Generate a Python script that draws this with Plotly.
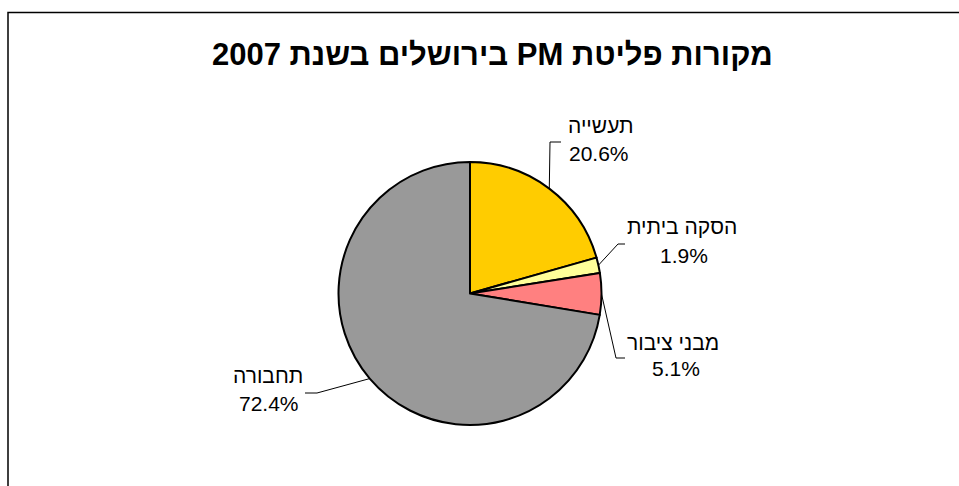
import math
import plotly.graph_objects as go

# PM emission sources in Jerusalem, 2007 (percent share)
labels = ["תעשייה", "הסקה ביתית", "מבני ציבור", "תחבורה"]
values = [20.6, 1.9, 5.1, 72.4]
colors = ["#FFCC00", "#FFFF99", "#FF8080", "#999999"]
title_text = "מקורות פליטת PM בירושלים בשנת 2007"

W, H = 959, 486
FONT = "Liberation Sans, Arial, sans-serif"

# pie placement in pixels
cx, cy, r = 470, 293.5, 131.5

# label layout in pixels: name centre, percent centre, leader elbow, leader end
name_pos = [(600, 125), (682, 227), (673, 342), (268, 375)]
pct_pos = [(599, 153), (684, 255), (676, 368), (269, 403)]
elbows = [(550, 142), (618, 244), (616, 358), (317, 393)]
ends = [(561, 142), (625, 244), (625, 358), (305, 393)]


def px(x):
    return x / W


def py(y):
    return 1 - y / H


fig = go.Figure(
    go.Pie(
        labels=labels,
        values=values,
        sort=False,
        direction="clockwise",
        rotation=0,
        marker=dict(colors=colors, line=dict(color="black", width=2)),
        textinfo="none",
        hoverinfo="label+percent",
        showlegend=False,
        domain=dict(x=[px(cx - r), px(cx + r)], y=[py(cy + r), py(cy - r)]),
    )
)

annotations = [
    dict(
        text="\u202B" + title_text + "\u202C",
        x=px(492), y=py(54), xref="paper", yref="paper",
        xanchor="center", yanchor="middle", showarrow=False,
        font=dict(family=FONT, size=31, color="black", weight="bold"),
    )
]
shapes = [
    dict(
        type="rect", xref="paper", yref="paper",
        x0=px(8), y0=-0.05, x1=1.05, y1=py(12.5),
        line=dict(color="black", width=1.5), fillcolor="rgba(0,0,0,0)",
    )
]

total = sum(values)
cum = 0.0
for i, (lab, v) in enumerate(zip(labels, values)):
    mid = (cum + v / 2) / total * 2 * math.pi
    cum += v
    ex = cx + r * math.sin(mid)
    ey = cy - r * math.cos(mid)
    bx, by = elbows[i]
    tx, ty = ends[i]
    shapes.append(
        dict(
            type="path", xref="paper", yref="paper",
            path=f"M {px(ex)} {py(ey)} L {px(bx)} {py(by)} L {px(tx)} {py(ty)}",
            line=dict(color="black", width=1),
        )
    )
    annotations.append(
        dict(
            text=lab, x=px(name_pos[i][0]), y=py(name_pos[i][1]),
            xref="paper", yref="paper", xanchor="center", yanchor="middle",
            showarrow=False, font=dict(family=FONT, size=21, color="black"),
        )
    )
    annotations.append(
        dict(
            text=f"{v / total * 100:.1f}%", x=px(pct_pos[i][0]), y=py(pct_pos[i][1]),
            xref="paper", yref="paper", xanchor="center", yanchor="middle",
            showarrow=False, font=dict(family=FONT, size=21, color="black"),
        )
    )

fig.update_layout(
    width=W, height=H,
    margin=dict(l=0, r=0, t=0, b=0),
    paper_bgcolor="white",
    plot_bgcolor="white",
    annotations=annotations,
    shapes=shapes,
)

fig.write_html("out.html")
